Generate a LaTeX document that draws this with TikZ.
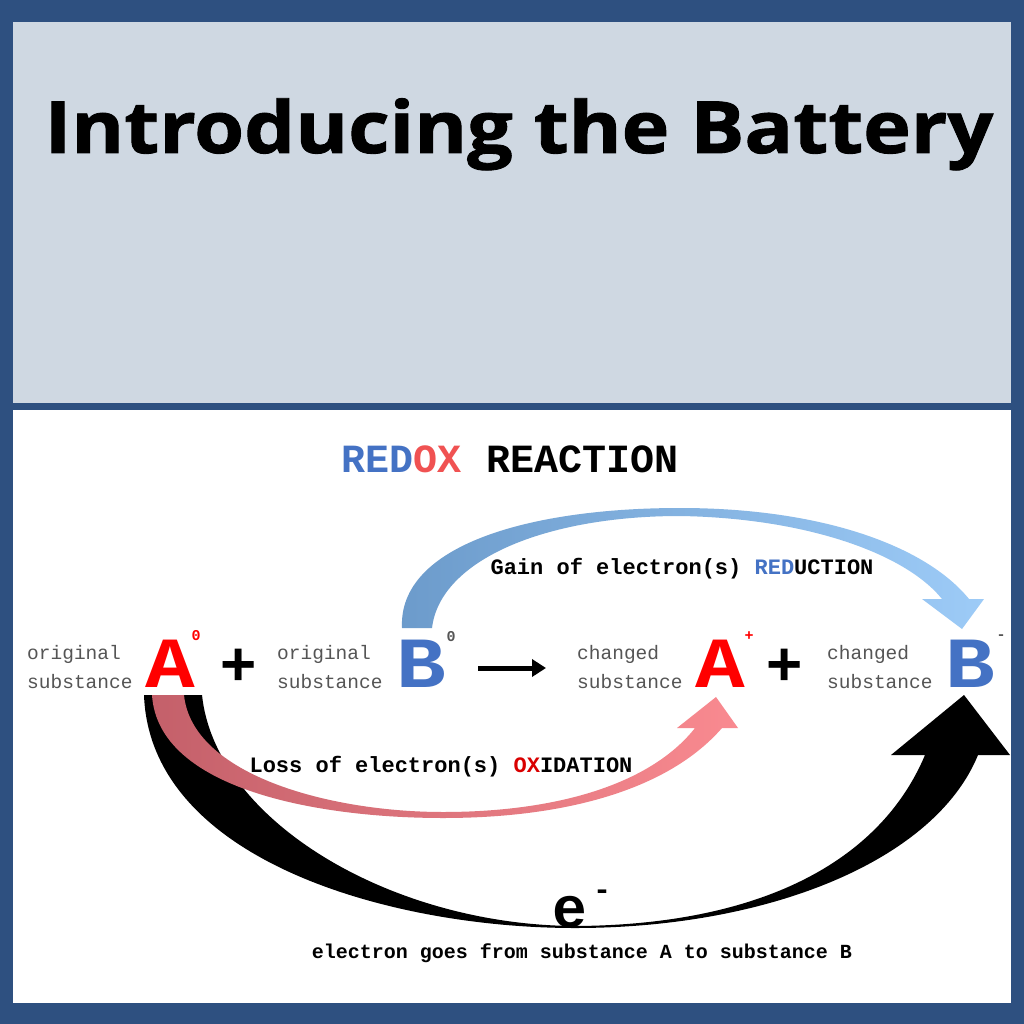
\documentclass[tikz,border=0pt]{standalone}
\usepackage{fontspec}
\usepackage{graphicx}
\usepackage{xcolor}
\usepackage{tikz}
\usetikzlibrary{arrows.meta,positioning}
\newfontfamily\titlefont[BoldFeatures={FakeBold=1.2}]{Open Sans}
\newfontfamily\courfont{Liberation Mono}
\newfontfamily\plusfont{Liberation Sans}
\definecolor{frameblue}{HTML}{2E5080}
\definecolor{panelgray}{HTML}{CFD8E2}
\definecolor{redblue}{HTML}{4472C4}
\definecolor{oxred}{HTML}{F05252}
\definecolor{letterred}{HTML}{FF0000}
\definecolor{subgray}{HTML}{555555}
\definecolor{bluedark}{HTML}{6C9BCB}
\definecolor{bluelight}{HTML}{9DCBF7}
\definecolor{pinkdark}{HTML}{C4606A}
\definecolor{pinklight}{HTML}{F98A90}
\newcommand{\wideletter}[1]{\scalebox{1.15}[1]{#1}}
\tikzset{
  subst/.style={anchor=west, align=left, inner sep=0pt, text=subgray, font=\courfont\fontsize{19.5}{29}\selectfont},
  bigletter/.style={anchor=base, inner sep=0pt, font=\courfont\bfseries\fontsize{72}{72}\selectfont},
  charge/.style={inner sep=0pt, font=\courfont\bfseries\fontsize{15}{15}\selectfont},
  bigplus/.style={inner sep=0pt, font=\plusfont\bfseries\fontsize{62}{62}\selectfont},
  arclabel/.style={anchor=base, inner sep=0pt, font=\courfont\bfseries\fontsize{22}{22}\selectfont},
  rxnarr/.style={-{Triangle[length=14pt,width=17pt]}, line width=5pt}
}

\begin{document}
\begin{tikzpicture}[x=1pt,y=-1pt]
% panels
\fill[frameblue] (0,0) rectangle (1024,1024);
\fill[panelgray] (13,22) rectangle (1011,403);
\fill[white] (13,410) rectangle (1011,1003);
\node[anchor=base, inner sep=0pt, font=\titlefont\bfseries\fontsize{72}{72}\selectfont] (title) at (519,153) {\scalebox{1.12}[1]{Introducing the Battery}};

% heading
\node[anchor=base, inner sep=0pt, font=\courfont\bfseries\fontsize{40}{40}\selectfont] (head) at (510,472)
  {\textcolor{redblue}{RED}\textcolor{oxred}{OX} REACTION};

% curved arrows
\shade[left color=bluedark, right color=bluelight]
  (402,628) .. controls (398,545) and (530,508) .. (680,508)
  .. controls (820,508) and (925,545) .. (969,599)
  -- (984,599) -- (962,629) -- (922,599) -- (942,599)
  .. controls (905,553) and (805,518) .. (680,516)
  .. controls (545,516) and (440,560) .. (432,628) -- cycle;
\fill[black]
  (144,695) .. controls (150,860) and (390,928) .. (575,928)
  .. controls (770,928) and (935,860) .. (978,755)
  -- (1010,755) -- (964,695) -- (891,755) -- (925,755)
  .. controls (880,862) and (760,925) .. (575,926)
  .. controls (390,925) and (215,820) .. (202,695) -- cycle;
\shade[left color=pinkdark, right color=pinklight]
  (152,695) .. controls (158,790) and (320,818) .. (443,818)
  .. controls (565,818) and (668,790) .. (722,728)
  -- (738,728) -- (716,697) -- (677,728) -- (695,728)
  .. controls (650,785) and (555,812) .. (443,812)
  .. controls (330,812) and (192,775) .. (184,695) -- cycle;

% equation
\node[subst] (s1) at (27,667) {original\\substance};
\node[bigletter, text=letterred] (a0) at (170,687) {\wideletter{A}};
\node[charge, text=letterred] (a0c) at (196,636) {0};
\node[bigplus] (p1) at (239,667) {+};
\node[subst] (s2) at (277,667) {original\\substance};
\node[bigletter, text=redblue] (b0) at (421,687) {\wideletter{B}};
\node[charge, text=subgray] (b0c) at (451,637) {0};
\coordinate (r1) at (478,668);
\coordinate (r2) at (546,668);
\draw[rxnarr] (r1) -- (r2);
\node[subst] (s3) at (577,667) {changed\\substance};
\node[bigletter, text=letterred] (a1) at (720,687) {\wideletter{A}};
\node[charge, text=letterred] (a1c) at (749,636) {+};
\node[bigplus] (p2) at (785,667) {+};
\node[subst] (s4) at (827,667) {changed\\substance};
\node[bigletter, text=redblue] (b1) at (970,687) {\wideletter{B}};
\node[charge, text=subgray] (b1c) at (1001,637) {-};

% labels
\node[arclabel] (gain) at (682,574) {Gain of electron(s) \textcolor{redblue}{RED}UCTION};
\node[arclabel] (loss) at (441,772) {Loss of electron(s) \textcolor{red!85!black}{OX}IDATION};
\node[anchor=base, inner sep=0pt, font=\courfont\bfseries\fontsize{58}{58}\selectfont] (el) at (570,927) {e};
\node[inner sep=0pt, font=\courfont\bfseries\fontsize{30}{30}\selectfont] (elc) at (602,895) {-};
\node[anchor=base, inner sep=0pt, font=\courfont\bfseries\fontsize{20}{20}\selectfont] (goes) at (582,958) {electron goes from substance A to substance B};
\end{tikzpicture}
\end{document}
